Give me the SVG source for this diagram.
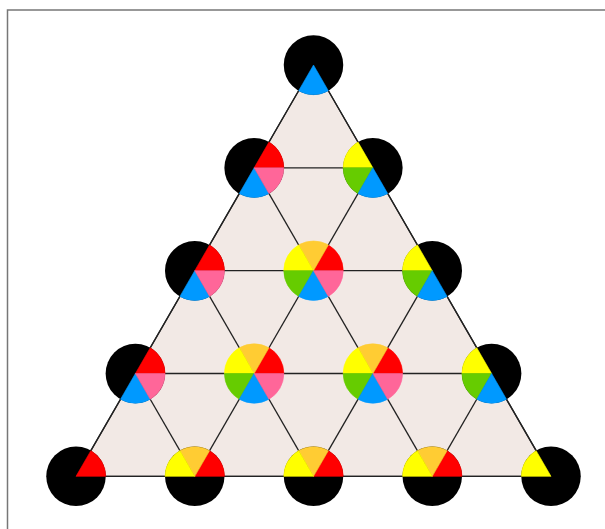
<svg xmlns="http://www.w3.org/2000/svg" xmlns:xlink="http://www.w3.org/1999/xlink" width="605" height="529" viewBox="0 0 605 529">
<style>
.frame{fill:none;stroke:#777;stroke-width:1.5}
.tri{fill:#f2e9e5;stroke:#222;stroke-width:1.3}
.edges line{stroke:#222;stroke-width:1.3}
.bg{fill:#000}
use{stroke-width:0.6;stroke-linejoin:round}
.s0{fill:#ff0000;stroke:#ff0000}.s1{fill:#ffcc33;stroke:#ffcc33}.s2{fill:#ffff00;stroke:#ffff00}.s3{fill:#66cc00;stroke:#66cc00}.s4{fill:#0099ff;stroke:#0099ff}.s5{fill:#ff6699;stroke:#ff6699}
</style>
<defs>
<path id="p0" d="M0,0 L29.7,0 A29.7,29.7 0 0 0 14.85,-25.72 Z"/>
<path id="p1" d="M0,0 L14.85,-25.72 A29.7,29.7 0 0 0 -14.85,-25.72 Z"/>
<path id="p2" d="M0,0 L-14.85,-25.72 A29.7,29.7 0 0 0 -29.7,0 Z"/>
<path id="p3" d="M0,0 L-29.7,0 A29.7,29.7 0 0 0 -14.85,25.72 Z"/>
<path id="p4" d="M0,0 L-14.85,25.72 A29.7,29.7 0 0 0 14.85,25.72 Z"/>
<path id="p5" d="M0,0 L14.85,25.72 A29.7,29.7 0 0 0 29.7,0 Z"/>
</defs>
<rect class="frame" x="7.5" y="10" width="700" height="600"/>
<polygon class="tri" points="313.5,65 551,476.36 76,476.36"/>
<g id="connectors" class="edges">
<line x1="254.125" y1="167.84" x2="372.875" y2="167.84"/>
<line x1="194.75" y1="270.68" x2="432.25" y2="270.68"/>
<line x1="135.375" y1="373.52" x2="491.625" y2="373.52"/>
<line x1="76" y1="476.36" x2="551" y2="476.36"/>
<line x1="313.5" y1="65" x2="76" y2="476.36"/>
<line x1="372.875" y1="167.84" x2="194.75" y2="476.36"/>
<line x1="432.25" y1="270.68" x2="313.5" y2="476.36"/>
<line x1="491.625" y1="373.52" x2="432.25" y2="476.36"/>
<line x1="313.5" y1="65" x2="551" y2="476.36"/>
<line x1="254.125" y1="167.84" x2="432.25" y2="476.36"/>
<line x1="194.75" y1="270.68" x2="313.5" y2="476.36"/>
<line x1="135.375" y1="373.52" x2="194.75" y2="476.36"/>
</g>
<g id="n00" transform="translate(313.5,65)"><circle class="bg" r="29.75"/><use href="#p4" class="s4"/></g>
<g id="n10" transform="translate(254.125,167.84)"><circle class="bg" r="29.75"/><use href="#p0" class="s0"/><use href="#p4" class="s4"/><use href="#p5" class="s5"/></g>
<g id="n11" transform="translate(372.875,167.84)"><circle class="bg" r="29.75"/><use href="#p2" class="s2"/><use href="#p3" class="s3"/><use href="#p4" class="s4"/></g>
<g id="n20" transform="translate(194.75,270.68)"><circle class="bg" r="29.75"/><use href="#p0" class="s0"/><use href="#p4" class="s4"/><use href="#p5" class="s5"/></g>
<g id="n21" transform="translate(313.5,270.68)"><use href="#p0" class="s0"/><use href="#p1" class="s1"/><use href="#p2" class="s2"/><use href="#p3" class="s3"/><use href="#p4" class="s4"/><use href="#p5" class="s5"/></g>
<g id="n22" transform="translate(432.25,270.68)"><circle class="bg" r="29.75"/><use href="#p2" class="s2"/><use href="#p3" class="s3"/><use href="#p4" class="s4"/></g>
<g id="n30" transform="translate(135.375,373.52)"><circle class="bg" r="29.75"/><use href="#p0" class="s0"/><use href="#p4" class="s4"/><use href="#p5" class="s5"/></g>
<g id="n31" transform="translate(254.125,373.52)"><use href="#p0" class="s0"/><use href="#p1" class="s1"/><use href="#p2" class="s2"/><use href="#p3" class="s3"/><use href="#p4" class="s4"/><use href="#p5" class="s5"/></g>
<g id="n32" transform="translate(372.875,373.52)"><use href="#p0" class="s0"/><use href="#p1" class="s1"/><use href="#p2" class="s2"/><use href="#p3" class="s3"/><use href="#p4" class="s4"/><use href="#p5" class="s5"/></g>
<g id="n33" transform="translate(491.625,373.52)"><circle class="bg" r="29.75"/><use href="#p2" class="s2"/><use href="#p3" class="s3"/><use href="#p4" class="s4"/></g>
<g id="n40" transform="translate(76,476.36)"><circle class="bg" r="29.75"/><use href="#p0" class="s0"/></g>
<g id="n41" transform="translate(194.75,476.36)"><circle class="bg" r="29.75"/><use href="#p0" class="s0"/><use href="#p1" class="s1"/><use href="#p2" class="s2"/></g>
<g id="n42" transform="translate(313.5,476.36)"><circle class="bg" r="29.75"/><use href="#p0" class="s0"/><use href="#p1" class="s1"/><use href="#p2" class="s2"/></g>
<g id="n43" transform="translate(432.25,476.36)"><circle class="bg" r="29.75"/><use href="#p0" class="s0"/><use href="#p1" class="s1"/><use href="#p2" class="s2"/></g>
<g id="n44" transform="translate(551,476.36)"><circle class="bg" r="29.75"/><use href="#p2" class="s2"/></g>
</svg>
